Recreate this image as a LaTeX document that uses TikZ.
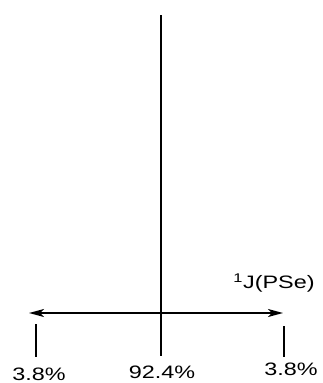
\documentclass[tikz,border=0pt]{standalone}
\usepackage{fontspec}
\setmainfont{Liberation Sans}
\usetikzlibrary{arrows.meta,positioning}

\begin{document}
\begin{tikzpicture}[x=1pt, y=-1pt, line width=1.7pt,
  pct/.style={font=\fontsize{18}{20}\selectfont, xscale=1.3, inner sep=0pt},
  >={Stealth[length=15pt, width=8pt, inset=4pt]}]
  \useasboundingbox (0,0) rectangle (323,383);
  % Main line
  \coordinate (top) at (161,15);
  \coordinate (base) at (161,356);
  \draw (top) -- (base);
  % Coupling arrow
  \coordinate (jleft) at (29,313);
  \coordinate (jright) at (283,313);
  \draw[<->] (jleft) -- (jright);
  \node[pct] (jlabel) at (274,283) {\textsuperscript{1}J(PSe)};
  % Satellites
  \coordinate (sleft) at (36,324);
  \coordinate (sleftb) at (36,357);
  \coordinate (sright) at (284,326);
  \coordinate (srightb) at (284,357);
  \draw (sleft) -- (sleftb);
  \draw (sright) -- (srightb);
  % Labels
  \node[pct] (pleft) at (39,374) {3.8\%};
  \node[pct] (pmid) at (162,372) {92.4\%};
  \node[pct] (pright) at (291,369) {3.8\%};
\end{tikzpicture}
\end{document}
